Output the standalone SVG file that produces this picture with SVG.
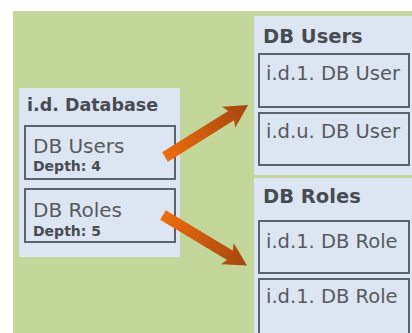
<svg xmlns="http://www.w3.org/2000/svg" width="412" height="333" viewBox="0 0 412 333">
<style>
.panel{fill:#dce6f2}
.box{fill:#dce6f2;stroke:#5b636c;stroke-width:2}
.t{font-family:"DejaVu Sans","Verdana",sans-serif;fill:#555a60}
.h{font-family:"DejaVu Sans","Verdana",sans-serif;font-weight:bold;fill:#474c52}
</style>
<defs>
<linearGradient id="ag" gradientUnits="userSpaceOnUse" x1="0" y1="0" x2="98" y2="0">
<stop offset="0" stop-color="#ee6c0c"/>
<stop offset="1" stop-color="#a4460f"/>
</linearGradient>
</defs>
<rect width="412" height="333" fill="#ffffff"/>
<rect x="13" y="11" width="399" height="322" fill="#c3d79b"/>

<g id="database">
<rect class="panel" x="19" y="88" width="161" height="169"/>
<text class="h" x="27" y="111" font-size="17.5">i.d. Database</text>
<g id="db-users-ref">
<rect class="box" x="25" y="126" width="150" height="53"/>
<text class="t" x="33" y="153" font-size="20">DB Users</text>
<text class="h" x="33" y="171" font-size="14">Depth: 4</text>
</g>
<g id="db-roles-ref">
<rect class="box" x="25" y="189" width="150" height="53"/>
<text class="t" x="33" y="217" font-size="20">DB Roles</text>
<text class="h" x="33" y="236" font-size="14">Depth: 5</text>
</g>
</g>

<g id="db-users">
<rect class="panel" x="254" y="16" width="160" height="159"/>
<text class="h" x="263" y="43" font-size="19.5">DB Users</text>
<g id="user1">
<rect class="box" x="259" y="54" width="150" height="53"/>
<text class="t" x="266" y="80" font-size="19.5">i.d.1. DB User</text>
</g>
<g id="useru">
<rect class="box" x="259" y="113" width="150" height="52"/>
<text class="t" x="266" y="138" font-size="19.5">i.d.u. DB User</text>
</g>
</g>

<g id="db-roles">
<rect class="panel" x="254" y="178" width="160" height="157"/>
<text class="h" x="263" y="203" font-size="19.5">DB Roles</text>
<g id="role1">
<rect class="box" x="259" y="221" width="150" height="52"/>
<text class="t" x="266" y="248" font-size="19.5">i.d.1. DB Role</text>
</g>
<g id="role2">
<rect class="box" x="259" y="279" width="150" height="60"/>
<text class="t" x="266" y="303" font-size="19.5">i.d.1. DB Role</text>
</g>
</g>

<g id="connectors">
<polygon fill="url(#ag)" transform="translate(165,157) rotate(-32)" points="0,-5.5 78,-5.5 75,-12.5 98,0 75,12.5 78,5.5 0,5.5"/>
<polygon fill="url(#ag)" transform="translate(163,215) rotate(31)" points="0,-5.5 78,-5.5 75,-12.5 98,0 75,12.5 78,5.5 0,5.5"/>
</g>
</svg>
